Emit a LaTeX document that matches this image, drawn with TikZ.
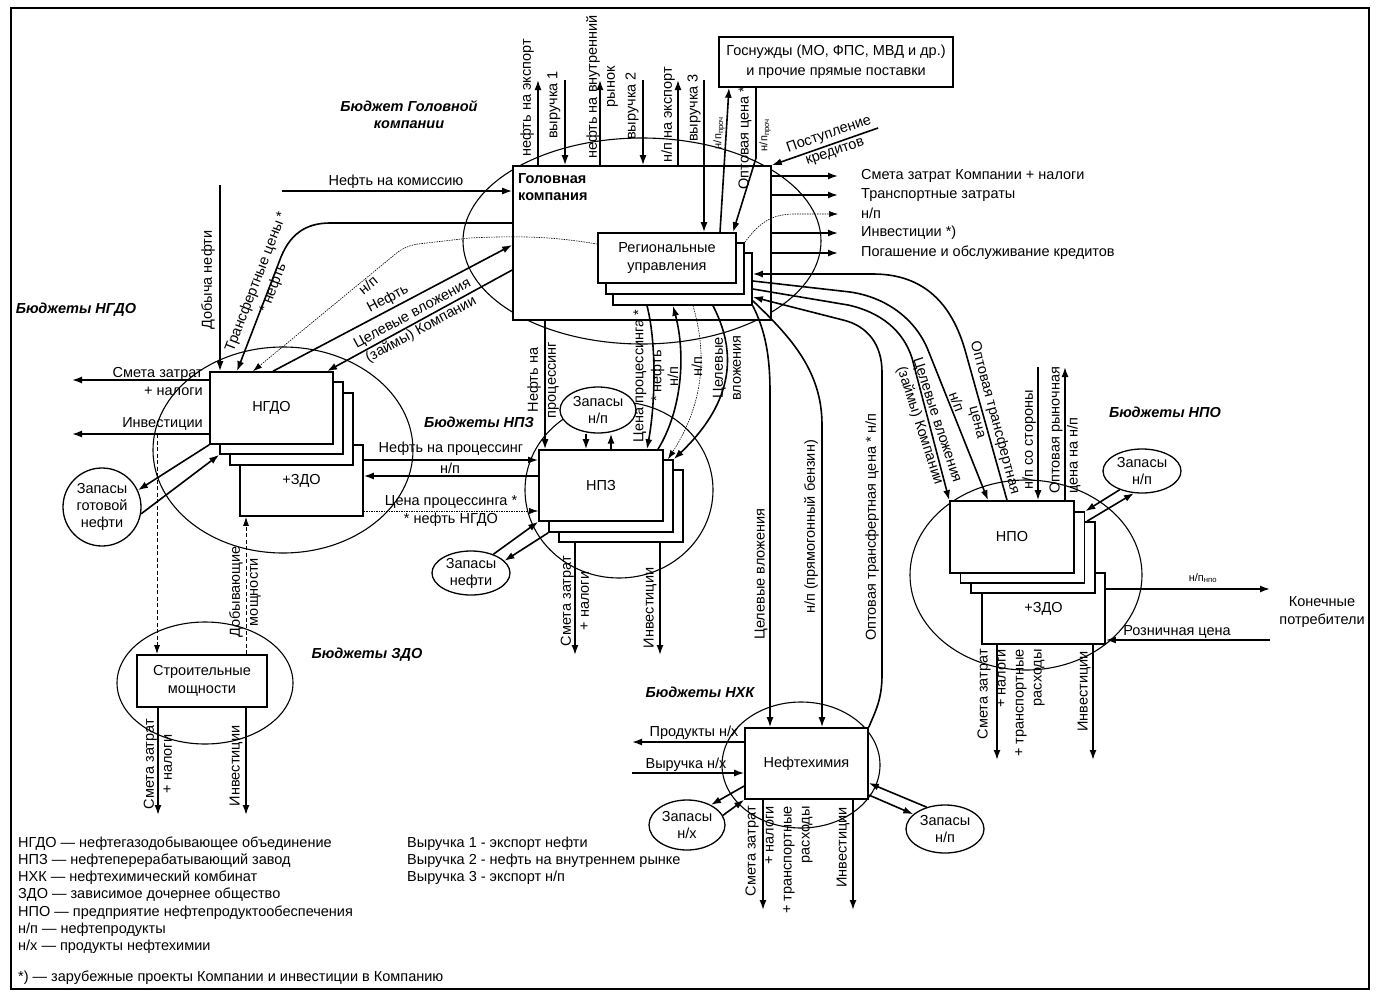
\documentclass[tikz,border=0pt]{standalone}
\usepackage{fontspec}
\setmainfont{Liberation Sans}
\usetikzlibrary{arrows.meta, positioning, calc, shapes.geometric}

\begin{document}
\begin{tikzpicture}[x=1pt, y=-1pt,
  font=\fontsize{14.5}{18}\selectfont,
  box/.style={draw, line width=1.6pt, fill=white, inner sep=0pt, align=center},
  zone/.style={draw, ellipse, line width=1.1pt, inner sep=0pt},
  stock/.style={draw, ellipse, line width=1.3pt, fill=white, inner sep=0pt, align=center,
    font=\fontsize{14.5}{17}\selectfont},
  flow/.style={line width=1.6pt, -{Latex[length=10pt,width=7pt]}},
  thinflow/.style={line width=0.6pt, dash pattern=on 1.5pt off 1pt, -{Latex[length=9pt,width=6pt]}},
  dashflow/.style={line width=1pt, dash pattern=on 4pt off 2.5pt, -{Latex[length=9pt,width=6pt]}},
  lbl/.style={inner sep=0pt, align=center},
  vlbl/.style={lbl, rotate=90},
  subtext/.style={font=\fontsize{11}{12}\selectfont},
  budget/.style={lbl, font=\fontsize{14.5}{17}\selectfont\bfseries\itshape}]

\useasboundingbox (0,0) rectangle (1376,993);
\draw[line width=2pt] (11,8) rectangle (1369,989);

% budget zones
\node[zone, minimum width=358pt, minimum height=206pt] (hqzone) at (642,241) {};
\node[zone, minimum width=260pt, minimum height=206pt] (ngzone) at (283,450) {};
\node[zone, minimum width=176pt, minimum height=122pt] (zdzone) at (205,683) {};
\node[zone, minimum width=188pt, minimum height=176pt] (npzone) at (619,490) {};
\node[zone, minimum width=232pt, minimum height=190pt] (pozone) at (1026,575) {};
\node[zone, minimum width=158pt, minimum height=126pt] (nxzone) at (801,765) {};

% head company
\node[box, minimum width=258pt, minimum height=154pt] (hq) at (642,243) {};
\node[lbl, anchor=north west, align=left, font=\fontsize{14.5}{17}\selectfont\bfseries] (hqname) at (518,173) {Головная\\компания};
\node[box, minimum width=139pt, minimum height=52pt] (rb3) at (682.5,279) {};
\node[box, minimum width=138pt, minimum height=51pt] (rb2) at (675,268.5) {};
\node[box, minimum width=138pt, minimum height=50pt] (rb1) at (667,258) {Региональные\\управления};
\node[box, minimum width=234pt, minimum height=50pt] (gz) at (836,62) {Госнужды (МО, ФПС, МВД и др.)\\[2pt]и прочие прямые поставки};

% NGDO and ZDO
\node[box, minimum width=123pt, minimum height=71pt] (zd1) at (301.5,480.5) {+ЗДО};
\node[box, minimum width=123pt, minimum height=72pt] (ng3) at (291.5,429) {};
\node[box, minimum width=123pt, minimum height=72pt] (ng2) at (281.5,418) {};
\node[box, minimum width=123pt, minimum height=72pt] (ng1) at (271.5,408) {НГДО};
\node[box, minimum width=130pt, minimum height=52pt] (sm) at (202,681) {Строительные\\мощности};

% NPZ
\node[box, minimum width=124pt, minimum height=72pt] (np3) at (621,506) {};
\node[box, minimum width=124pt, minimum height=72pt] (np2) at (611,496) {};
\node[box, minimum width=124pt, minimum height=71pt] (np1) at (601,485.5) {НПЗ};

% NPO
\node[box, minimum width=123pt, minimum height=71pt] (pz) at (1043.5,608.5) {+ЗДО};
\node[box, minimum width=124pt, minimum height=71pt] (po3) at (1033,557.5) {};
\node[box, minimum width=124pt, minimum height=71pt] (po2) at (1022.5,547.5) {};
\node[box, minimum width=124pt, minimum height=72pt] (po1) at (1012,537) {НПО};

% NHK
\node[box, minimum width=123pt, minimum height=71pt] (nx) at (806.5,763.5) {Нефтехимия};

% stocks
\node[stock, minimum width=78pt, minimum height=78pt] (stk1) at (102,507) {Запасы\\готовой\\нефти};
\node[stock, minimum width=76pt, minimum height=46pt] (stk2) at (598,410) {Запасы\\н/п};
\node[stock, minimum width=78pt, minimum height=44pt] (stk3) at (471,573) {Запасы\\нефти};
\node[stock, minimum width=78pt, minimum height=44pt] (stk4) at (1142,471) {Запасы\\н/п};
\node[stock, minimum width=76pt, minimum height=50pt] (stk5) at (687,825) {Запасы\\н/х};
\node[stock, minimum width=78pt, minimum height=48pt] (stk6) at (945,829) {Запасы\\н/п};
\node[lbl] (cons) at (1322,612) {Конечные\\потребители};

% flows above the head company
\coordinate (tExp) at (538,80);
\draw[flow] (hq.north -| tExp) -- (tExp);
\node[vlbl] (lExp) at (527,98) {нефть на экспорт};
\coordinate (tRev1) at (565,80);
\draw[flow] (tRev1) -- (hq.north -| tRev1);
\node[vlbl] (lRev1) at (554,105) {выручка 1};
\coordinate (tDom) at (600,80);
\draw[flow] (hq.north -| tDom) -- (tDom);
\node[vlbl] (lDom) at (602,87) {нефть на внутренний\\рынок};
\coordinate (tRev2) at (643,80);
\draw[flow] (tRev2) -- (hq.north -| tRev2);
\node[vlbl] (lRev2) at (632,106) {выручка 2};
\coordinate (tExpNp) at (678,80);
\draw[flow] (hq.north -| tExpNp) -- (tExpNp);
\node[vlbl] (lExpNp) at (668,115) {н/п на экспорт};
\coordinate (tRev3) at (704,80);
\draw[flow] (tRev3) -- (rb1.north -| tRev3);
\node[vlbl] (lRev3) at (694,108) {выручка 3};

\draw[flow] (rb1.north -| 720,0) -- (gz.south -| 729,0);
\node[vlbl, subtext] (lGz1) at (719,133) {н/п\textsubscript{проч}};
\draw[flow] (gz.south -| 756,0) -- (756,158) -- (rb1.north -| 733,0);
\node[vlbl] (lGz2) at (745,138) {Оптовая цена *};
\node[vlbl, subtext] (lGz3) at (765,135) {н/п\textsubscript{проч}};

\coordinate (tCred) at (878,128);
\draw[flow] (tCred) -- (hq.north east);
\node[lbl, rotate=19] (lCred) at (832,143) {Поступление\\кредитов};

% flows to the right of the head company
\foreach \yy/\txt [count=\i] in {176/Смета затрат Компании + налоги, 195/Транспортные затраты,
    233/Инвестиции *), 253/Погашение и обслуживание кредитов} {
  \coordinate (out\i) at (838,\yy);
  \draw[flow] (hq.east |- out\i) -- (out\i);
  \node[lbl, anchor=west] (lOut\i) at (861,\yy) {\txt};
}
\coordinate (out5) at (838,214);
\draw[thinflow] (rb2.north east) .. controls (760,222) and (772,214) .. (795,214) -- (out5);
\node[lbl, anchor=west] (lOut5) at (861,213) {н/п};

% head company -- NGDO
\coordinate (tCom) at (282,191);
\draw[flow] (tCom) -- (hq.west |- tCom);
\node[lbl] (lCom) at (396,182) {Нефть на комиссию};
\draw[flow] (hq.west |- 0,223) -- (330,223) .. controls (305,223) and (290,235) .. (281,257) -- (ng1.north -| 237,0);
\node[lbl, rotate=69] (lTr) at (265,285) {Трансфертные цены *\\* нефть};
\draw[thinflow] ([yshift=14pt]rb1.west) .. controls (560,238) and (530,235) .. (470,238) -- (418,244)
  .. controls (406,246) and (400,250) .. (393,256) -- (ng1.north -| 253,0);
\node[lbl, rotate=40] (lNpNg) at (368,285) {н/п};
\draw[flow] (ng1.north -| 273,0) -- (hq.west |- 0,245);
\node[lbl, rotate=28] (lOil) at (388,299) {Нефть};
\draw[flow] (hq.west |- 0,270) -- (ng1.north -| 327,0);
\node[lbl, rotate=28.5] (lInvNg) at (417,322) {Целевые вложения\\(займы) Компании};
\coordinate (tMine) at (220,185);
\draw[flow] (tMine) -- (ng1.north -| tMine);
\node[vlbl] (lMine) at (208,280) {Добыча нефти};

% NGDO outputs
\coordinate (tCost1) at (72,380);
\draw[flow] (ng1.west |- tCost1) -- (tCost1);
\node[lbl, anchor=east, align=right] (lCost1) at (203,382) {Смета затрат\\+ налоги};
\coordinate (tInv1) at (72,434);
\draw[flow] (ng1.west |- tInv1) -- (tInv1);
\node[lbl, anchor=east] (lInv1) at (203,424) {Инвестиции};
\draw[flow] (ng1.south west) -- (stk1.25);
\draw[flow] (stk1.-10) -- (ng2.south west);

% ZDO
\coordinate (tBuild) at (157,434);
\draw[dashflow] (tBuild) -- (sm.north -| tBuild);
\draw[dashflow] (sm.north -| 246,0) -- (zd1.south -| 246,0);
\node[vlbl] (lCap) at (245,592) {Добывающие\\мощности};
\coordinate (tCost2) at (158,815);
\draw[flow] (sm.south -| tCost2) -- (tCost2);
\node[vlbl] (lCost2) at (158,764) {Смета затрат\\+ налоги};
\coordinate (tInv2) at (246,815);
\draw[flow] (sm.south -| tInv2) -- (tInv2);
\node[vlbl] (lInv2) at (236,766) {Инвестиции};

% NPZ
\draw[flow] (hq.south -| 545,0) -- (np1.north -| 545,0);
\node[vlbl] (lProc) at (543,380) {Нефть на\\процессинг};
\draw[flow] (rb3.south -| 647,0) .. controls (656,340) and (656,400) .. (np1.north -| 647,0);
\node[vlbl] (lProcP) at (649,376) {Цена процессинга *\\* нефть};
\draw[flow] (np1.north -| 658,0) .. controls (682,410) and (686,355) .. (rb3.south -| 673,0);
\node[vlbl] (lNp1) at (673,377) {н/п};
\draw[thinflow] (rb3.south -| 693,0) .. controls (706,350) and (706,400) .. (np2.north -| 668,0);
\node[vlbl] (lNp2) at (697,367) {н/п};
\draw[flow] (rb3.south -| 713,0) .. controls (736,350) and (736,400) .. (np2.north east);
\node[vlbl] (lInvNp) at (727,368) {Целевые\\вложения};

\draw[flow] (zd1.east |- 0,460) -- (np1.west |- 0,460);
\node[lbl] (lProc2) at (451,449) {Нефть на процессинг};
\draw[flow] (np1.west |- 0,476) -- (zd1.east |- 0,476);
\node[lbl] (lNp3) at (450,468) {н/п};
\draw[thinflow] (zd1.east |- 0,511) -- (np1.west |- 0,511);
\node[lbl] (lProcP2) at (451,511) {Цена процессинга *\\* нефть НГДО};

\draw[flow] (stk2.south -| 586,0) -- (np1.north -| 586,0);
\draw[flow] (np1.north -| 611,0) -- (stk2.south -| 611,0);
\draw[flow] (stk3.40) -- (np1.south west);
\draw[flow] (np2.south west) -- (stk3.20);
\coordinate (tCost3) at (575,655);
\draw[flow] (np3.south -| tCost3) -- (tCost3);
\node[vlbl] (lCost3) at (575,601) {Смета затрат\\+ налоги};
\coordinate (tInv3) at (660,655);
\draw[flow] (np3.south -| tInv3) -- (tInv3);
\node[vlbl] (lInv3) at (650,608) {Инвестиции};

% regional offices -- NPO and NHK
\draw[flow] (po1.north -| 1007,0) -- (965,350) .. controls (952,305) and (925,274) .. (873,274) -- (rb3.east |- 0,274);
\node[lbl, rotate=-75] (lWT) at (986,420) {Оптовая трансфертная\\цена};
\draw[flow] (rb3.east |- 0,281) -- (850,292) .. controls (885,297) and (915,318) .. (928,350) -- (po1.north -| 988,0);
\node[lbl, rotate=-70] (lNpPo) at (957,402) {н/п};
\draw[flow] (rb3.east |- 0,289) -- (848,305) .. controls (880,312) and (903,330) .. (912,358) -- (po1.north west);
\node[lbl, rotate=-72] (lInvPo) at (928,423) {Целевые вложения\\(займы) Компании};
\draw[flow] (nx.north east) .. controls (875,712) and (882,700) .. (882,675) -- (882,372)
  .. controls (882,345) and (868,326) .. (843,320) -- (rb3.east |- 0,297);
\node[vlbl] (lWTnx) at (872,527) {Оптовая трансфертная цена * н/п};
\draw[flow] (rb3.south east) .. controls (765,330) and (770,355) .. (770,392) -- (nx.north -| 770,0);
\node[vlbl] (lInvNx) at (761,574) {Целевые вложения};
\draw[flow] ([yshift=5pt]rb3.south east) .. controls (792,338) and (822,372) .. (822,425) -- (nx.north -| 822,0);
\node[vlbl] (lNpNx) at (811,527) {н/п (прямогонный бензин)};

% NPO
\coordinate (tSide) at (1038,367);
\draw[flow] (tSide) -- (po1.north -| tSide);
\node[vlbl] (lSide) at (1029,440) {н/п со стороны};
\coordinate (tMkt) at (1065,367);
\draw[flow] (po1.north -| tMkt) -- (tMkt);
\node[vlbl, anchor=west, align=left] (lMkt) at (1065,494) {Оптовая рыночная\\цена на н/п};
\draw[flow] (stk4.220) -- (po2.north east);
\draw[flow] (po3.north -| 1087,0) -- (stk4.250);
\coordinate (tFin) at (1270,589);
\draw[flow] (pz.east |- tFin) -- (tFin);
\node[lbl, subtext] (lFin) at (1203,578) {н/п\textsubscript{нпо}};
\coordinate (tRet) at (1270,640);
\draw[flow] (tRet) -- (pz.east |- tRet);
\node[lbl] (lRet) at (1177,632) {Розничная цена};
\coordinate (tCost4) at (997,760);
\draw[flow] (pz.south -| tCost4) -- (tCost4);
\node[vlbl, anchor=east, align=right] (lCost4) at (1011,649) {Смета затрат\\+ налоги\\+ транспортные\\расходы};
\coordinate (tInv4) at (1093,760);
\draw[flow] (pz.south -| tInv4) -- (tInv4);
\node[vlbl, anchor=east] (lInv4) at (1084,651) {Инвестиции};

% NHK
\coordinate (tProd) at (632,742);
\draw[flow] (nx.west |- tProd) -- (tProd);
\node[lbl] (lProd) at (694,733) {Продукты н/х};
\coordinate (tRevNx) at (632,773);
\draw[flow] (tRevNx) -- (nx.west |- tRevNx);
\node[lbl] (lRevNx) at (686,765) {Выручка н/х};
\draw[flow] (nx.west |- 0,786) -- (stk5.40);
\draw[flow] (stk5.15) -- (nx.south west);
\draw[flow] (stk6.130) -- (nx.east |- 0,783);
\draw[flow] (nx.east |- 0,795) -- (stk6.155);
\coordinate (tCost5) at (763,910);
\draw[flow] (nx.south -| tCost5) -- (tCost5);
\node[vlbl, anchor=east, align=right] (lCost5) at (779,806) {Смета затрат\\+ налоги\\+ транспортные\\расходы};
\coordinate (tInv5) at (853,910);
\draw[flow] (nx.south -| tInv5) -- (tInv5);
\node[vlbl, anchor=east] (lInv5) at (843,807) {Инвестиции};

% budget titles
\node[budget] (bHq) at (409,115) {Бюджет Головной\\компании};
\node[budget] (bNg) at (76,310) {Бюджеты НГДО};
\node[budget] (bNp) at (479,422) {Бюджеты НПЗ};
\node[budget] (bZd) at (367,655) {Бюджеты ЗДО};
\node[budget] (bPo) at (1165,412) {Бюджеты НПО};
\node[budget] (bNx) at (700,692) {Бюджеты НХК};

% legend
\node[lbl, anchor=north west, align=left, font=\fontsize{14.5}{17.2}\selectfont] (legAbbr) at (18,836.5) {%
  НГДО — нефтегазодобывающее объединение\\
  НПЗ — нефтеперерабатывающий завод\\
  НХК — нефтехимический комбинат\\
  ЗДО — зависимое дочернее общество\\
  НПО — предприятие нефтепродуктообеспечения\\
  н/п — нефтепродукты\\
  н/х — продукты нефтехимии};
\node[lbl, anchor=north west, align=left, font=\fontsize{14.5}{17.2}\selectfont] (legRev) at (407,836.5) {%
  Выручка 1 - экспорт нефти\\
  Выручка 2 - нефть на внутреннем рынке\\
  Выручка 3 - экспорт н/п};
\node[lbl, anchor=west] (legNote) at (18,978) {*) — зарубежные проекты Компании и инвестиции в Компанию};
\end{tikzpicture}
\end{document}
